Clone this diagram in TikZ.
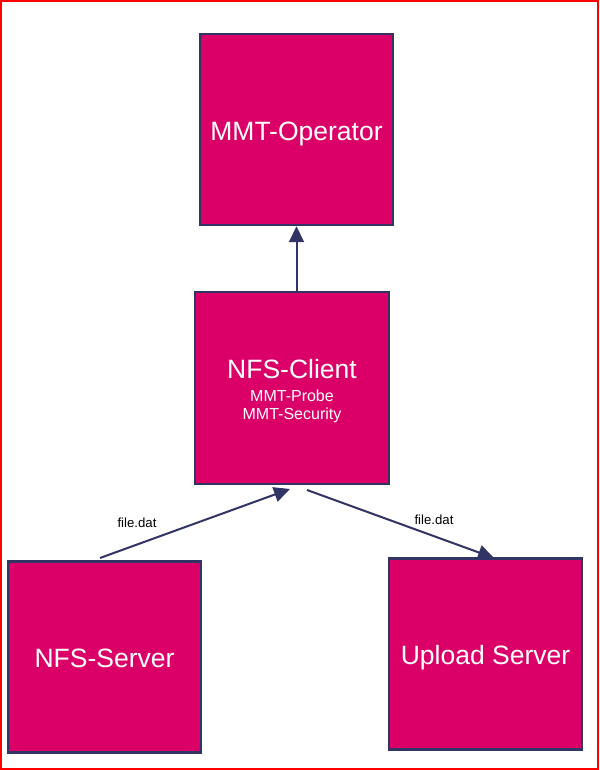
\documentclass[tikz,border=0pt]{standalone}
\usepackage{fontspec}
\setmainfont{Liberation Sans}
\usetikzlibrary{arrows.meta}
\definecolor{magenta}{HTML}{DB0068}
\definecolor{navy}{HTML}{323465}
\newcommand{\grand}{\fontsize{26.5}{30}\selectfont}
\newcommand{\petit}{\fontsize{16}{18.5}\selectfont}
\tikzset{
  bloc/.style={draw=navy, fill=magenta, line width=2.5pt, text=white,
    minimum width=193pt, minimum height=191pt, align=center, font=\grand,
    text height=22pt, text depth=0pt},
  fleche/.style={navy, line width=2pt, -{Triangle[length=16pt,width=15pt]}},
  etiq/.style={font=\fontsize{13.2}{15}\selectfont, text=black}
}
\begin{document}
\begin{tikzpicture}[x=1pt,y=1pt]
% cadre rouge
\useasboundingbox (0,0) rectangle (599,770);
\draw[red, line width=2pt] (1,1) rectangle (598,769);

% boites
\node[bloc] (operator) at (296.5,640.5) {MMT-Operator};
\node[bloc, minimum width=194pt, minimum height=192pt, font=\petit,
  text height=, text depth=] (client) at (292,382)
  {{\grand\rule{0pt}{25.5pt}NFS-Client}\\[4pt]MMT-Probe\\MMT-Security};
\node[bloc] (server) at (104.5,113) {NFS-Server};
\node[bloc] (upload) at (485.5,116) {Upload Server};

% fleches
\coordinate (srv) at (100,212);
\coordinate (inL) at (290,281);
\coordinate (outR) at (307,280);
\coordinate (upl) at (494,212);
\draw[fleche] (client.north -| operator.south) -- (operator.south);
\draw[fleche] (srv) -- (inL);
\draw[fleche] (outR) -- (upl);
\node[etiq] (lblL) at (137,247) {file.dat};
\node[etiq] (lblR) at (434,250) {file.dat};
\end{tikzpicture}
\end{document}
